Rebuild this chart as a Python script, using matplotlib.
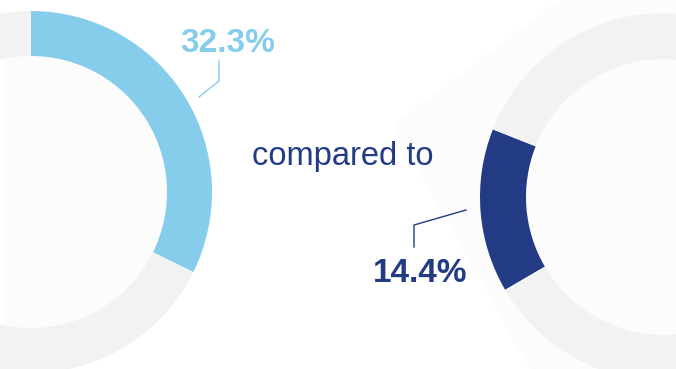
import matplotlib.pyplot as plt
from matplotlib.patches import Circle, Polygon

# Share of the total in each period
share_before = 32.3
share_after = 14.4
label_before = f"{share_before}%"
label_after = f"{share_after}%"
middle_text = "compared to"

LIGHT_BLUE = '#86cdeb'
NAVY = '#233a85'
RING_GREY = '#f2f2f2'

W, H = 676, 369
LEFT_PAD = 5
fig = plt.figure(figsize=(W / 100, H / 100), dpi=100)
ax = fig.add_axes([LEFT_PAD / W, 0, 1 - LEFT_PAD / W, 1])

# Soft shadow fanning out to the left of the right ring
shadow = Polygon([(393, H - 125), (560, H), (W, H), (W, 0), (530, 0)],
                 closed=True, facecolor='#fcfcfc', edgecolor='none', zorder=0)
ax.add_patch(shadow)

# Left ring
left_c, left_r, left_w = (31, H - 192), 181, 45
ax.add_patch(Circle(left_c, left_r - left_w, facecolor='#fcfcfc', edgecolor='none', zorder=1))
ax.pie([share_before, 100 - share_before], colors=[LIGHT_BLUE, RING_GREY],
       startangle=90, counterclock=False, center=left_c, radius=left_r,
       wedgeprops=dict(width=left_w, linewidth=0), frame=True)

# Right ring
right_c, right_r, right_w = (664, H - 197), 184, 46
ax.add_patch(Circle(right_c, right_r - right_w, facecolor='#fcfcfc', edgecolor='none', zorder=1))
ax.pie([share_after, 100 - share_after], colors=[NAVY, RING_GREY],
       startangle=-149.7, counterclock=False, center=right_c, radius=right_r,
       wedgeprops=dict(width=right_w, linewidth=0), frame=True)

# Labels and leader lines
ax.text(180, H - 52, label_before, color=LIGHT_BLUE, fontsize=24, fontweight='bold',
        family='Liberation Sans', ha='left', va='baseline')
ax.plot([199, 219, 219], [H - 97, H - 81, H - 61], color=LIGHT_BLUE, lw=1.0)

ax.text(373, H - 282, label_after, color=NAVY, fontsize=24, fontweight='bold',
        family='Liberation Sans', ha='left', va='baseline')
ax.plot([466, 414, 414], [H - 210, H - 225, H - 247], color=NAVY, lw=1.0)

ax.text(252, H - 165, middle_text, color=NAVY, fontsize=23.5,
        family='Liberation Sans', ha='left', va='baseline')

ax.set_xlim(LEFT_PAD, W)
ax.set_ylim(0, H)
ax.set_aspect('auto')
ax.axis('off')

fig.savefig('out.png', dpi=100, facecolor='white')
